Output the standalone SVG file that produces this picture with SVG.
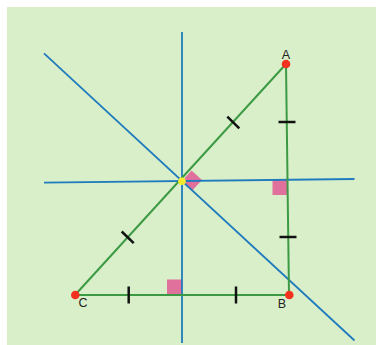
<svg xmlns="http://www.w3.org/2000/svg" width="376" height="345" viewBox="0 0 376 345">
<style>
.blue{stroke:#1f7bbd;stroke-width:1.8;fill:none}
.side{stroke:#3d9a44;stroke-width:2;fill:none}
.tick{stroke:#111;stroke-width:2.5;fill:none}
.ra{fill:#e0709c}
.pt{fill:#f2321e}
.lbl{font-family:"Liberation Sans",Arial,sans-serif;font-size:12.5px;fill:#222;text-anchor:middle}
</style>
<rect x="0" y="0" width="376" height="345" fill="#ffffff"/>
<rect x="7" y="7" width="369" height="338" fill="#d9efc9"/>
<g id="right-angles">
<rect class="ra" x="167" y="279.5" width="15" height="15"/>
<rect class="ra" x="272.5" y="180" width="15" height="15"/>
<polygon class="ra" points="182,181 191.6,170.5 202,180 192.3,190.4"/>
</g>
<g id="connectors">
<line class="blue" x1="182" y1="32" x2="182" y2="343"/>
<line class="blue" x1="44" y1="182.7" x2="354.5" y2="179"/>
<line class="blue" x1="44" y1="53.3" x2="354.5" y2="340.5"/>
<g id="triangle">
<line class="side" x1="286" y1="64" x2="289" y2="295"/>
<line class="side" x1="289" y1="295" x2="75" y2="295"/>
<line class="side" x1="75" y1="295" x2="286" y2="64"/>
</g>
<g id="ticks">
<line class="tick" x1="227.3" y1="116.7" x2="239.3" y2="128.3"/>
<line class="tick" x1="121.7" y1="231.5" x2="133.7" y2="243.1"/>
<line class="tick" x1="278.5" y1="122" x2="295.5" y2="122"/>
<line class="tick" x1="279.5" y1="237" x2="296.5" y2="237"/>
<line class="tick" x1="128.7" y1="286.5" x2="128.7" y2="303.5"/>
<line class="tick" x1="236" y1="286.5" x2="236" y2="303.5"/>
</g>
</g>
<g id="A">
<circle class="pt" cx="286" cy="64" r="4.3"/>
<text class="lbl" x="286" y="59">A</text>
</g>
<g id="B">
<circle class="pt" cx="289.3" cy="295" r="4.3"/>
<text class="lbl" x="282" y="307.5">B</text>
</g>
<g id="C">
<circle class="pt" cx="75.3" cy="295" r="4.3"/>
<text class="lbl" x="83" y="307">C</text>
</g>
<g id="O">
<circle cx="182" cy="181.3" r="3.8" fill="#f6ea2c"/>
</g>
</svg>
